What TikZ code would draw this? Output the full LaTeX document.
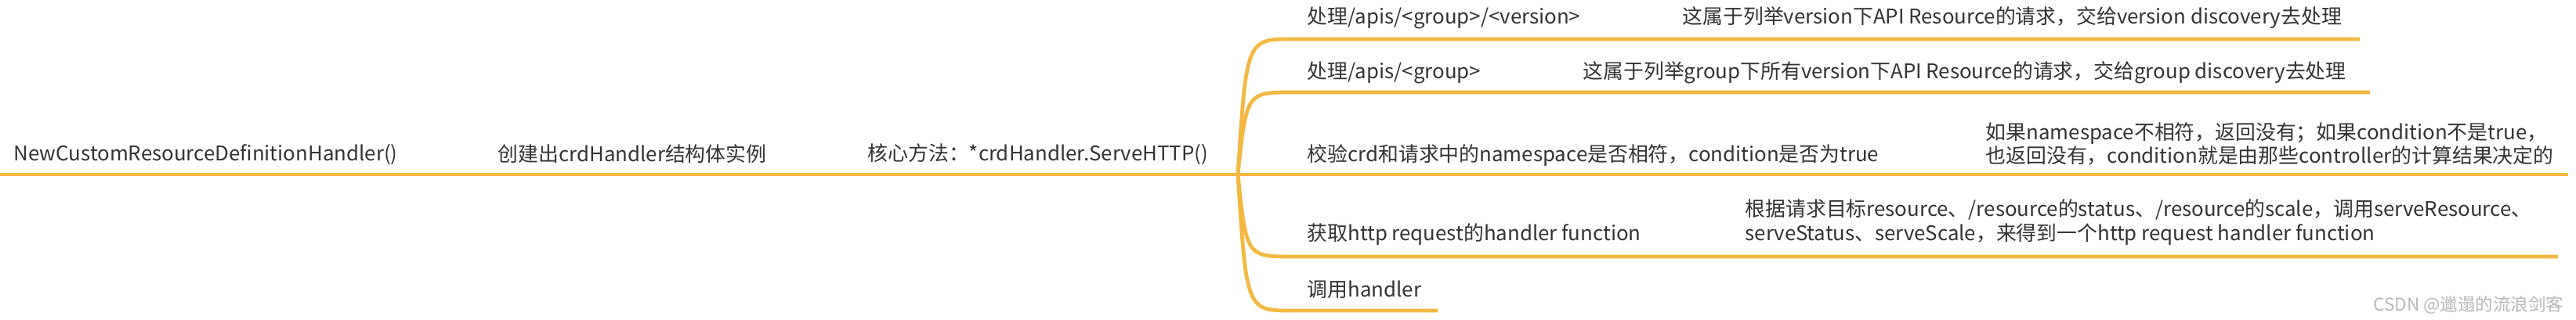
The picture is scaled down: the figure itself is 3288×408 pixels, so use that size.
\documentclass[tikz,border=0pt]{standalone}
\usepackage{fontspec}
\setmainfont{Noto Sans CJK SC}
\usepackage{tikz}
\usetikzlibrary{positioning}

\definecolor{mapline}{RGB}{244,183,64}
\definecolor{maptext}{RGB}{51,51,51}
\tikzset{
    topic/.style={anchor=west, inner sep=0pt, text=maptext, font=\fontsize{7.35}{8.6}\selectfont},
    note/.style={topic, align=left},
    branch/.style={draw=mapline, line width=1.35pt},
}

\begin{document}
\begin{tikzpicture}[x=0.01cm,y=-0.01cm]

    \useasboundingbox (0,0) rectangle (3288,408);

    \coordinate (root) at (0,223);
    \coordinate (fork) at (1580,223);

    \node[topic] (ctor) at (17,197) {NewCustomResourceDefinitionHandler()};
    \node[topic] (crdinst) at (635,197) {创建出crdHandler结构体实例};
    \node[topic] (servehttp) at (1107,197) {核心方法：*crdHandler.ServeHTTP()};

    \draw[branch] (root) -- (fork);

    \coordinate (apisver-s) at (1650,50);
    \coordinate (apisver-e) at (3012,50);
    \coordinate (apisgrp-s) at (1650,118);
    \coordinate (apisgrp-e) at (3025,118);
    \coordinate (nscheck-e) at (3278,223);
    \coordinate (gethandler-s) at (1650,328);
    \coordinate (gethandler-e) at (3265,328);
    \coordinate (callhandler-s) at (1650,397);
    \coordinate (callhandler-e) at (1835,397);

    \draw[branch] (fork) .. controls (1591,50) .. (apisver-s) -- (apisver-e);
    \draw[branch] (fork) .. controls (1591,118) .. (apisgrp-s) -- (apisgrp-e);
    \draw[branch] (fork) -- (nscheck-e);
    \draw[branch] (fork) .. controls (1591,328) .. (gethandler-s) -- (gethandler-e);
    \draw[branch] (fork) .. controls (1591,397) .. (callhandler-s) -- (callhandler-e);

    \node[topic] (apisver) at (1668,23) {处理/apis/<group>/<version>};
    \node[topic] (apisgrp) at (1668,93) {处理/apis/<group>};
    \node[topic] (nscheck) at (1668,198) {校验crd和请求中的namespace是否相符，condition是否为true};
    \node[topic] (gethandler) at (1668,300) {获取http request的handler function};
    \node[topic] (callhandler) at (1668,370) {调用handler};

    \node[topic] (vernote) at (2147,23) {这属于列举version下API Resource的请求，交给version discovery去处理};
    \node[topic] (grpnote) at (2020,93) {这属于列举group下所有version下API Resource的请求，交给group discovery去处理};
    \node[note] (nsnote) at (2534,184) {如果namespace不相符，返回没有；如果condition不是true，\\也返回没有，condition就是由那些controller的计算结果决定的};
    \node[note] (handlernote) at (2227,284) {根据请求目标resource、/resource的status、/resource的scale，调用serveResource、\\serveStatus、serveScale，来得到一个http request handler function};

    \node[anchor=east, inner sep=0pt, text=black!28, font=\fontsize{6.4}{7}\selectfont] (csdn) at (3273,390) {CSDN @邋遢的流浪剑客};

\end{tikzpicture}
\end{document}
